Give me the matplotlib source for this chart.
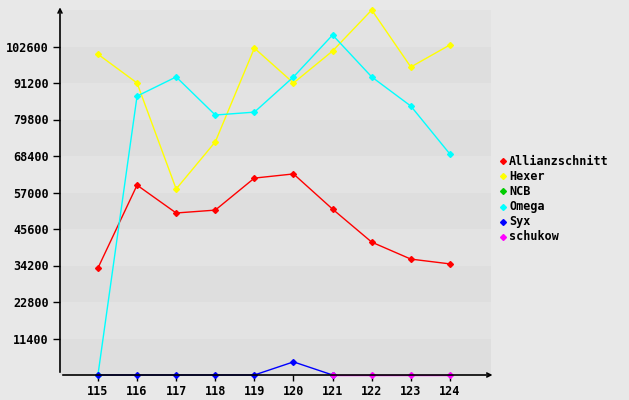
import matplotlib
matplotlib.use("Agg")
import matplotlib.pyplot as plt
from matplotlib.lines import Line2D

# data
weeks = [115, 116, 117, 118, 119, 120, 121, 122, 123, 124]
allianzschnitt = [33400, 59300, 50600, 51500, 61500, 62800, 51800, 41500, 36200, 34700]
hexer = [100200, 91200, 58100, 72800, 102100, 91200, 101200, 114000, 96200, 103100]
ncb_weeks = []
ncb = []  # no visible points for NCB
omega = [0, 87100, 93100, 81200, 82100, 93100, 106200, 93100, 84000, 69000]
syx_weeks = [115, 116, 117, 118, 119, 120, 121]
syx = [0, 0, 0, 0, 0, 4100, 0]
schukow_weeks = [121, 122, 123, 124]
schukow = [0, 0, 0, 0]

y_ticks = [11400, 22800, 34200, 45600, 57000, 68400, 79800, 91200, 102600]
names = ["Allianzschnitt", "Hexer", "NCB", "Omega", "Syx", "schukow"]
colors = ["#ff0000", "#ffff00", "#00cc00", "#00ffff", "#0000ff", "#ff00ff"]

W, H = 629, 400
fig = plt.figure(figsize=(W / 100, H / 100), dpi=100)
fig.patch.set_facecolor("#e8e8e8")
ax = fig.add_axes([60 / W, 25 / H, 431 / W, 365 / H])
ax.set_facecolor("#e8e8e8")

step = 11400
for i in range(10):
    ax.axhspan(i * step, (i + 1) * step, color="#dedede" if i % 2 == 0 else "#e3e3e3",
               lw=0, zorder=0)

series = [(weeks, allianzschnitt), (weeks, hexer), (ncb_weeks, ncb), (weeks, omega),
          (syx_weeks, syx), (schukow_weeks, schukow)]
for (xs, ys), c in zip(series, colors):
    ax.plot(xs, ys, color=c, lw=1, marker="D", markersize=3, zorder=3, clip_on=False)

ax.set_xlim(114.03, 125.05)
ax.set_ylim(0, 114000)

for s in ax.spines.values():
    s.set_visible(False)

font = dict(family="DejaVu Sans Mono", weight="bold", size=8.5)
ax.set_xticks(weeks)
ax.set_xticklabels([str(w) for w in weeks], **font)
ax.set_yticks(y_ticks)
ax.set_yticklabels([str(v) for v in y_ticks], **font)
ax.tick_params(axis="x", length=4, width=1, color="black", pad=3)
ax.tick_params(axis="y", length=5, width=1, color="black", pad=3)

# axis lines with arrows
ax.annotate("", xy=(0, 1.015), xytext=(0, 0), xycoords="axes fraction",
            arrowprops=dict(arrowstyle="->", lw=1.2, color="black", mutation_scale=7),
            annotation_clip=False)
ax.annotate("", xy=(1.01, 0), xytext=(0, 0), xycoords="axes fraction",
            arrowprops=dict(arrowstyle="->", lw=1.2, color="black", mutation_scale=7),
            annotation_clip=False)

# legend on the right
for i, (n, c) in enumerate(zip(names, colors)):
    yy = 1 - (161 + i * 15.2) / H
    fig.add_artist(Line2D([503 / W], [yy], marker="D", markersize=3, color=c,
                          transform=fig.transFigure))
    fig.text(509 / W, yy, n, va="center", ha="left", **font)

fig.savefig("out.png", dpi=100, facecolor=fig.get_facecolor())
